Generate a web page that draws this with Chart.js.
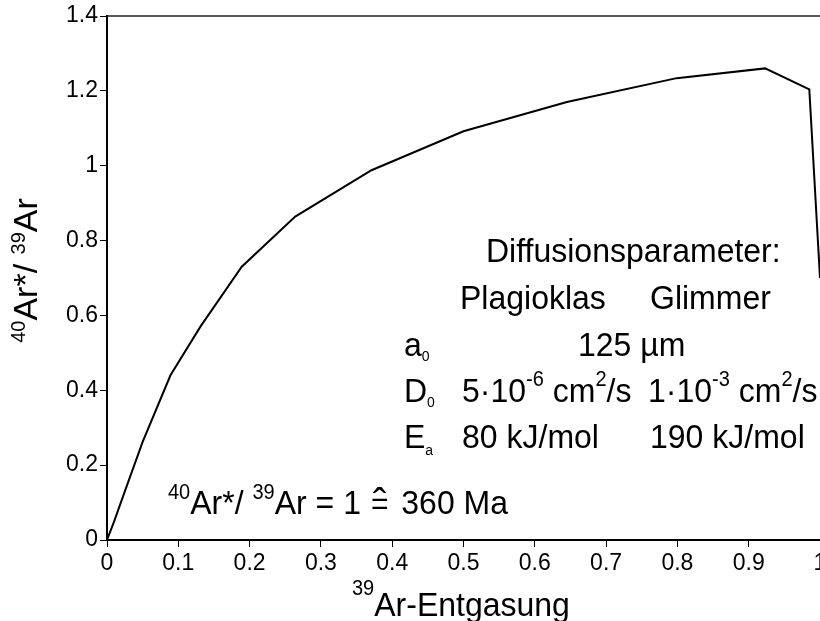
<!DOCTYPE html>
<html><head><meta charset="utf-8">
<script src="https://cdn.jsdelivr.net/npm/chart.js@4.4.0/dist/chart.umd.min.js"></script>
<style>
html,body{margin:0;padding:0;background:#fff;overflow:hidden;}
#wrap{position:relative;width:840px;height:621px;}
</style></head><body>
<div id="wrap"><canvas id="c" width="840" height="621"></canvas></div>
<script>
// Data
const xValues = [0, 0.01, 0.025, 0.05, 0.089, 0.131, 0.189, 0.264, 0.371, 0.5, 0.645, 0.799, 0.923, 0.985, 1.0];
const yValues = [0, 0.05, 0.13, 0.262, 0.44, 0.57, 0.73, 0.864, 0.988, 1.092, 1.170, 1.234, 1.260, 1.204, 0.70];
const xTickLabels = ['0','0.1','0.2','0.3','0.4','0.5','0.6','0.7','0.8','0.9','1'];
const yTickLabels = ['0','0.2','0.4','0.6','0.8','1','1.2','1.4'];

const FONT = '"Liberation Sans", Arial, Helvetica, sans-serif';
const VS = 1.06; // slight vertical stretch of the reference lettering

function measureParts(ctx, parts) {
  let w = 0;
  for (const p of parts) { ctx.font = p.s + 'px ' + FONT; w += ctx.measureText(p.t).width + (p.dx || 0); }
  return w;
}
function drawRich(ctx, x, y, parts, align, vs) {
  ctx.save();
  ctx.translate(x, y);
  ctx.scale(1, vs || VS);
  ctx.fillStyle = '#000';
  ctx.textBaseline = 'alphabetic';
  ctx.textAlign = 'left';
  let cx = 0;
  if (align === 'center') cx = -measureParts(ctx, parts) / 2;
  for (const p of parts) {
    cx += (p.dx || 0);
    ctx.font = p.s + 'px ' + FONT;
    const w = ctx.measureText(p.t).width;
    ctx.fillText(p.t, cx, p.dy || 0);
    if (p.hat) {
      ctx.font = p.hat + 'px ' + FONT;
      ctx.textAlign = 'center';
      ctx.fillText('\u02C6', cx + w / 2, p.hatDy);
      ctx.textAlign = 'left';
    }
    cx += w;
  }
  ctx.restore();
}
const M = 32, SUP = 20, SUB = 14;
const T = (t, s, dy) => ({t, s: s || M, dy: dy || 0});

const textPlugin = {
  id: 'texts',
  afterDraw(chart) {
    const ctx = chart.ctx;
    const a = chart.chartArea;
    // top frame line
    ctx.save();
    ctx.strokeStyle = '#222';
    ctx.lineWidth = 1.5;
    ctx.beginPath();
    ctx.moveTo(a.left, a.top);
    ctx.lineTo(a.right + 2, a.top);
    ctx.stroke();
    ctx.restore();

    // parameter table
    drawRich(ctx, 486, 261.5, [T('Diffusionsparameter:')]);
    drawRich(ctx, 460, 308.5, [T('Plagioklas')]);
    drawRich(ctx, 650, 308.5, [T('Glimmer')]);
    drawRich(ctx, 404, 355.5, [T('a'), T('0', SUB, 5)]);
    drawRich(ctx, 578, 355.5, [T('125 µm')]);
    drawRich(ctx, 404, 401.7, [T('D'), T('0', SUB, 5)]);
    drawRich(ctx, 462, 401.7, [T('5·10'), T('-6', SUP, -15), T(' cm'), T('2', SUP, -15), T('/s')]);
    drawRich(ctx, 648, 401.7, [T('1·10'), T('-3', SUP, -15), T(' cm'), T('2', SUP, -15), T('/s')]);
    drawRich(ctx, 404, 448.3, [T('E'), T('a', SUB, 6)]);
    drawRich(ctx, 462, 448.3, [T('80 kJ/mol')]);
    drawRich(ctx, 650, 448.3, [T('190 kJ/mol')]);

    // annotation
    drawRich(ctx, 168, 513.5, [T('40', SUP, -14), T('Ar*/ '), T('39', SUP, -14), T('Ar = 1 '),
      {t: '=', s: 30, dy: 0, dx: 1, hat: 40, hatDy: 4}, {t: ' 360 Ma', s: M, dy: 0, dx: 4}]);

    // x axis title
    drawRich(ctx, 352, 615.5, [T('39', SUP, -19), T('Ar-Entgasung')]);

    // y axis title
    ctx.save();
    ctx.translate(36.7, 270.5);
    ctx.rotate(-Math.PI / 2);
    drawRich(ctx, 0, 0, [T('40', SUP, -12), T('Ar*/ ', 34), T('39', SUP, -12), T('Ar', 34)], 'center', 1);
    ctx.restore();
  }
};

const tickFont = {family: FONT, size: 23};

new Chart(document.getElementById('c').getContext('2d'), {
  type: 'line',
  data: {
    datasets: [{
      data: xValues.map((x, i) => ({x: x, y: yValues[i]})),
      borderColor: '#000',
      borderWidth: 2,
      pointRadius: 0,
      tension: 0,
      fill: false
    }]
  },
  options: {
    responsive: false,
    animation: false,
    devicePixelRatio: 1,
    layout: {padding: {top: 16, right: 20, left: 0, bottom: 0}},
    plugins: {legend: {display: false}, tooltip: {enabled: false}, title: {display: false}},
    scales: {
      x: {
        type: 'linear', min: 0, max: 1,
        afterFit: s => { s.height = 81; },
        ticks: {
          stepSize: 0.1, autoSkip: false, maxRotation: 0, color: '#000', font: tickFont, padding: 3,
          callback: v => { const i = Math.round(v * 10); return xTickLabels[i] !== undefined ? xTickLabels[i] : ''; }
        },
        grid: {display: true, drawOnChartArea: false, drawTicks: true, tickLength: 7, color: '#000', lineWidth: 1},
        border: {display: true, color: '#000', width: 2}
      },
      y: {
        min: 0, max: 1.4,
        afterFit: s => { s.width = 107; },
        ticks: {
          stepSize: 0.2, color: '#000', font: tickFont, padding: 2,
          callback: v => { const i = Math.round(v * 5); return yTickLabels[i] !== undefined ? yTickLabels[i] : ''; }
        },
        grid: {display: true, drawOnChartArea: false, drawTicks: true, tickLength: 7, color: '#000', lineWidth: 1},
        border: {display: true, color: '#000', width: 2}
      }
    }
  },
  plugins: [textPlugin]
});
</script>
</body></html>
